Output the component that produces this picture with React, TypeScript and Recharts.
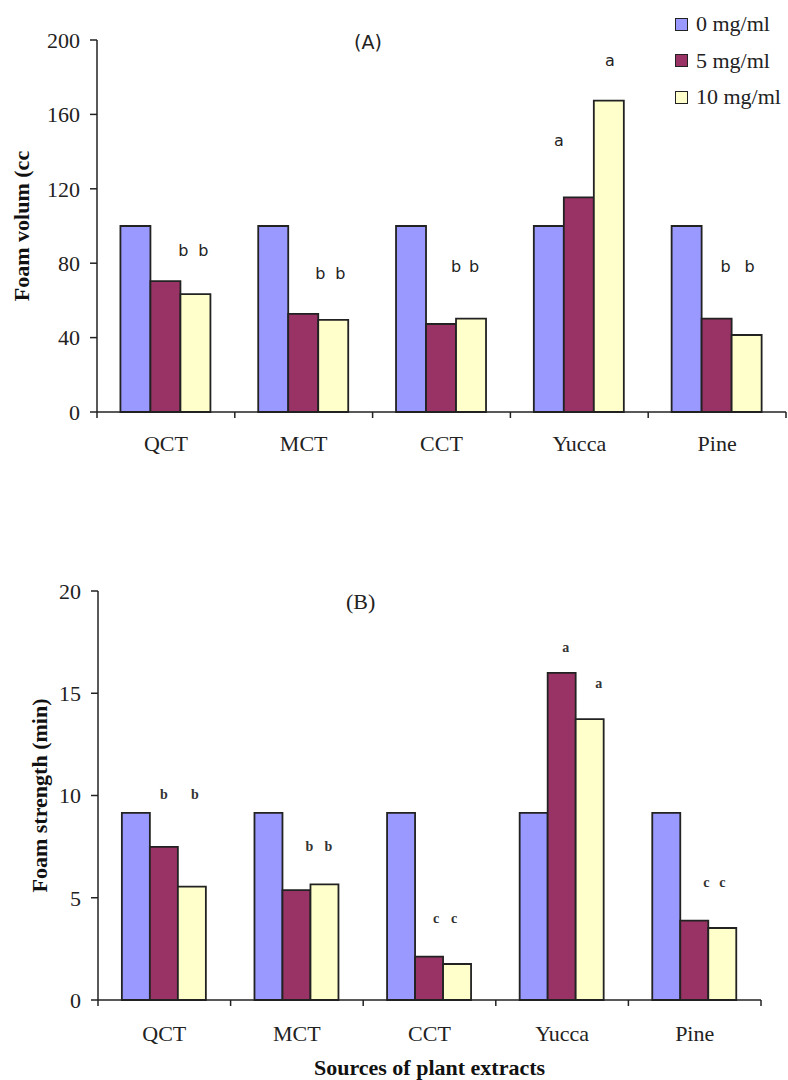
import { BarChart, Bar, XAxis, YAxis, LabelList } from 'recharts';

// categories and series
const categories = ['QCT', 'MCT', 'CCT', 'Yucca', 'Pine'];
const seriesNames = ['0 mg/ml', '5 mg/ml', '10 mg/ml'];
const seriesColors = ['#9999ff', '#993366', '#ffffcc'];

// (A) foam volume, cc
const volume0 = [100, 100, 100, 100, 100];
const volume5 = [70.4, 52.8, 47.3, 115.4, 50.2];
const volume10 = [63.4, 49.5, 50.2, 167.4, 41.4];
const volumeTicks = [0, 40, 80, 120, 160, 200];
const volumeLetters5 = ['b', 'b', 'b', 'a', 'b'];
const volumeLetters10 = ['b', 'b', 'b', 'a', 'b'];
const volumeLetterAt5 = [87, 74.7, 78, 145.7, 78];
const volumeLetterAt10 = [87, 74.7, 78, 189, 78];

// (B) foam strength, min
const strength0 = [9.15, 9.15, 9.15, 9.15, 9.15];
const strength5 = [7.49, 5.37, 2.12, 16.0, 3.88];
const strength10 = [5.54, 5.65, 1.76, 13.73, 3.52];
const strengthTicks = [0, 5, 10, 15, 20];
const strengthLetters5 = ['b', 'b', 'c', 'a', 'c'];
const strengthLetters10 = ['b', 'b', 'c', 'a', 'c'];
const strengthLetterAt5 = [10.05, 7.52, 3.97, 17.23, 5.73];
const strengthLetterAt10 = [10.05, 7.52, 3.97, 15.47, 5.73];

// horizontal nudges of the significance letters (px from bar centre)
const volumeNudge5 = [18, 17, 15, -20, 9];
const volumeNudge10 = [8, 7, 3, 1, 3];
const strengthNudge5 = [0, 13, 7, 4, 12];
const strengthNudge10 = [3, 4, -3, 9, 0];

const volumeRows = categories.map((name, i) => ({
  name,
  v0: volume0[i],
  v5: volume5[i],
  v10: volume10[i],
  l5: volumeLetters5[i],
  l10: volumeLetters10[i],
}));

const strengthRows = categories.map((name, i) => ({
  name,
  v0: strength0[i],
  v5: strength5[i],
  v10: strength10[i],
  l5: strengthLetters5[i],
  l10: strengthLetters10[i],
}));

const SERIF = '"Liberation Serif", "Times New Roman", serif';
const SANS = '"DejaVu Sans", Verdana, sans-serif';
const INK = '#222';

function letterLabel(values: number[], levels: number[], nudges: number[], style: any) {
  return (props: any) => {
    const { x, y, width, height, index, value } = props;
    if (!value || index == null) return null;
    const base = Number(y) + Number(height);
    const perUnit = Number(height) / values[index];
    const cy = base - levels[index] * perUnit;
    return (
      <text
        key={`l-${index}`}
        x={Number(x) + Number(width) / 2 + nudges[index]}
        y={cy}
        textAnchor="middle"
        dominantBaseline="central"
        style={style}
      >
        {value}
      </text>
    );
  };
}

function makeTick(band: number, labelDy: number) {
  return (props: any) => {
    const { x, y, payload, index } = props;
    const last = index === categories.length - 1;
    return (
      <g>
        <line x1={x - band / 2} x2={x - band / 2} y1={y} y2={y + 6} stroke={INK} strokeWidth={1.5} />
        {last && <line x1={x + band / 2} x2={x + band / 2} y1={y} y2={y + 6} stroke={INK} strokeWidth={1.5} />}
        <text x={x} y={y + labelDy} textAnchor="middle" dominantBaseline="central"
          style={{ fontFamily: SERIF, fontSize: 22, fill: INK }}>
          {payload.value}
        </text>
      </g>
    );
  };
}

const tickStyle = { fontFamily: SERIF, fontSize: 22, fill: INK };
const titleStyle = { fontFamily: SERIF, fontSize: 22, fontWeight: 700, fill: '#111' };

export default function App() {
  const topLetter = { fontFamily: SANS, fontSize: 16, fill: INK };
  const bottomLetter = { fontFamily: SERIF, fontSize: 14, fontWeight: 700, fill: '#333' };

  return (
    <div style={{ position: 'absolute', left: 0, top: 0, width: 788, height: 1080, background: '#fff' }}>
      {/* (A) */}
      <div style={{ position: 'absolute', left: 0, top: 0 }}>
        <BarChart width={788} height={470} data={volumeRows}
          margin={{ top: 40, right: 2, left: 0, bottom: 0 }} barCategoryGap="17%" barGap={0}>
          <XAxis dataKey="name" height={58} axisLine={{ stroke: INK, strokeWidth: 1.5 }}
            tickLine={false} tickSize={0} tickMargin={0} interval={0}
            tick={makeTick(689 / 5, 31)} />
          <YAxis width={97} domain={[0, 200]} ticks={volumeTicks} interval={0}
            axisLine={{ stroke: INK, strokeWidth: 1.5 }} tickLine={{ stroke: INK, strokeWidth: 1.5 }}
            tickSize={7} tickMargin={10} tick={tickStyle}
            label={{
              value: 'Foam volum (cc',
              content: (p: any) => {
                const vb = p.viewBox;
                const cx = vb.x + 21;
                const cy = vb.y + vb.height / 2;
                return (
                  <text x={cx} y={cy} transform={`rotate(-90, ${cx}, ${cy})`} textAnchor="middle"
                    dominantBaseline="central" style={titleStyle}>Foam volum (cc</text>
                );
              },
            }} />
          <Bar dataKey="v0" name={seriesNames[0]} fill={seriesColors[0]} stroke={INK} strokeWidth={1.8} isAnimationActive={false} />
          <Bar dataKey="v5" name={seriesNames[1]} fill={seriesColors[1]} stroke={INK} strokeWidth={1.8} isAnimationActive={false}>
            <LabelList dataKey="l5" content={letterLabel(volume5, volumeLetterAt5, volumeNudge5, topLetter)} />
          </Bar>
          <Bar dataKey="v10" name={seriesNames[2]} fill={seriesColors[2]} stroke={INK} strokeWidth={1.8} isAnimationActive={false}>
            <LabelList dataKey="l10" content={letterLabel(volume10, volumeLetterAt10, volumeNudge10, topLetter)} />
          </Bar>
        </BarChart>
      </div>

      <div style={{ position: 'absolute', left: 354, top: 31, fontFamily: SANS, fontSize: 19, color: INK }}>(A)</div>

      {/* legend */}
      <div style={{ position: 'absolute', left: 675, top: 6 }}>
        {seriesNames.map((s, i) => (
          <div key={s} style={{ display: 'flex', alignItems: 'center', height: 36.5 }}>
            <div style={{ width: 11, height: 11, background: seriesColors[i], border: '1.5px solid #222' }} />
            <span style={{ marginLeft: 8, fontFamily: SERIF, fontSize: 22, color: INK, whiteSpace: 'nowrap' }}>{s}</span>
          </div>
        ))}
      </div>

      {/* (B) */}
      <div style={{ position: 'absolute', left: 0, top: 540 }}>
        <BarChart width={788} height={540} data={strengthRows}
          margin={{ top: 51, right: 27, left: 0, bottom: 0 }} barCategoryGap="18%" barGap={0}>
          <XAxis dataKey="name" height={80} axisLine={{ stroke: INK, strokeWidth: 1.5 }}
            tickLine={false} tickSize={0} tickMargin={0} interval={0}
            tick={makeTick(663 / 5, 33)}
            label={{
              value: 'Sources of plant extracts',
              content: (p: any) => {
                const vb = p.viewBox;
                return (
                  <text x={vb.x + vb.width / 2} y={vb.y + 67} textAnchor="middle"
                    dominantBaseline="central" style={titleStyle}>Sources of plant extracts</text>
                );
              },
            }} />
          <YAxis width={98} domain={[0, 20]} ticks={strengthTicks} interval={0}
            axisLine={{ stroke: INK, strokeWidth: 1.5 }} tickLine={{ stroke: INK, strokeWidth: 1.5 }}
            tickSize={7} tickMargin={10} tick={tickStyle}
            label={{
              value: 'Foam strength (min)',
              content: (p: any) => {
                const vb = p.viewBox;
                const cx = vb.x + 39;
                const cy = vb.y + vb.height / 2;
                return (
                  <text x={cx} y={cy} transform={`rotate(-90, ${cx}, ${cy})`} textAnchor="middle"
                    dominantBaseline="central" style={titleStyle}>Foam strength (min)</text>
                );
              },
            }} />
          <Bar dataKey="v0" name={seriesNames[0]} fill={seriesColors[0]} stroke={INK} strokeWidth={1.8} isAnimationActive={false} />
          <Bar dataKey="v5" name={seriesNames[1]} fill={seriesColors[1]} stroke={INK} strokeWidth={1.8} isAnimationActive={false}>
            <LabelList dataKey="l5" content={letterLabel(strength5, strengthLetterAt5, strengthNudge5, bottomLetter)} />
          </Bar>
          <Bar dataKey="v10" name={seriesNames[2]} fill={seriesColors[2]} stroke={INK} strokeWidth={1.8} isAnimationActive={false}>
            <LabelList dataKey="l10" content={letterLabel(strength10, strengthLetterAt10, strengthNudge10, bottomLetter)} />
          </Bar>
        </BarChart>
      </div>

      <div style={{ position: 'absolute', left: 346, top: 589, fontFamily: SERIF, fontSize: 22, color: INK }}>(B)</div>
    </div>
  );
}
